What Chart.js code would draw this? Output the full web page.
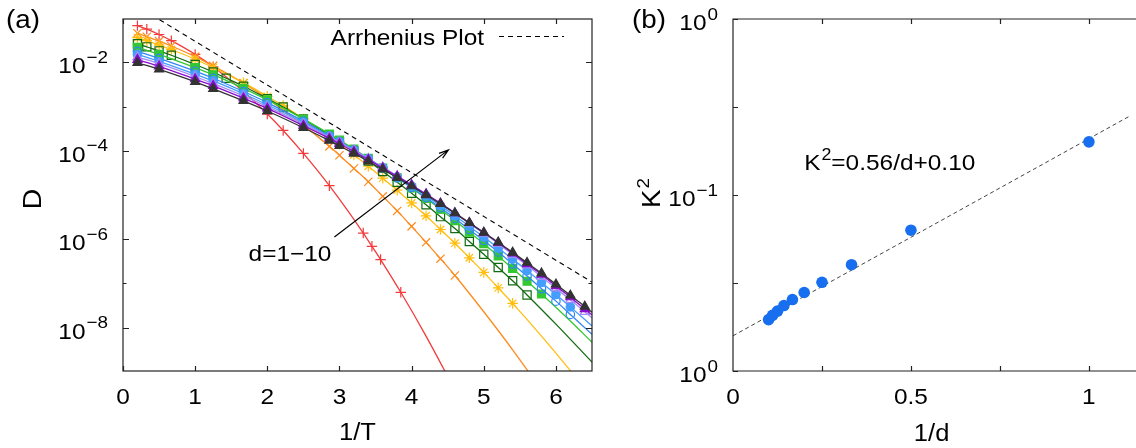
<!DOCTYPE html>
<html>
<head>
<meta charset="utf-8">
<script src="https://cdn.jsdelivr.net/npm/chart.js@4/dist/chart.umd.min.js"></script>
<style>
  html, body { margin: 0; padding: 0; background: #fff; overflow: hidden; }
  #wrap { position: relative; width: 1136px; height: 448px; }
  #chartA { position: absolute; left: 0; top: 0; }
  #chartB { position: absolute; left: 620px; top: 0; }
</style>
</head>
<body>
<div id="wrap">
  <canvas id="chartA" width="620" height="448"></canvas>
  <canvas id="chartB" width="516" height="448"></canvas>
</div>
<script>
// ---- panel (a): log10 D against 1/T, one pair of arrays per d ----
// the first nMeasured[i] points are simulation markers, the rest only carry the fitted curve
var t1 = [0.2, 0.33, 0.5, 0.67, 1, 1.25, 1.67, 2, 2.22, 2.5, 2.86, 3.33, 3.45, 3.57, 3.85, 4.2, 4.6];
var lg1 = [-1.17, -1.25, -1.37, -1.51, -1.82, -2.10, -2.66, -3.17, -3.54, -4.06, -4.79, -5.86, -6.16, -6.46, -7.20, -8.19, -9.41];
var t2 = [0.2, 0.33, 0.5, 0.67, 1, 1.25, 1.67, 2, 2.22, 2.5, 2.86, 3, 3.2, 3.4, 3.6, 3.8, 4, 4.2, 4.4, 4.6, 5, 5.4, 5.8];
var lg2 = [-1.34, -1.42, -1.52, -1.63, -1.87, -2.08, -2.47, -2.82, -3.08, -3.42, -3.90, -4.10, -4.40, -4.70, -5.03, -5.36, -5.71, -6.07, -6.44, -6.82, -7.64, -8.50, -9.41];
var t3 = [0.2, 0.33, 0.5, 0.67, 1, 1.25, 1.67, 2, 2.22, 2.5, 2.86, 3, 3.2, 3.4, 3.6, 3.8, 4, 4.2, 4.4, 4.6, 4.8, 5, 5.2, 5.4, 5.8, 6.2, 6.5];
var lg3 = [-1.44, -1.51, -1.61, -1.71, -1.93, -2.12, -2.46, -2.77, -2.98, -3.28, -3.68, -3.85, -4.09, -4.35, -4.62, -4.89, -5.18, -5.47, -5.78, -6.09, -6.42, -6.75, -7.10, -7.45, -8.19, -8.97, -9.58];
var t4 = [0.2, 0.33, 0.5, 0.67, 1, 1.25, 1.43, 1.67, 2, 2.22, 2.5, 2.86, 3, 3.2, 3.4, 3.6, 3.8, 4, 4.2, 4.4, 4.6, 4.8, 5, 5.2, 5.4, 5.6, 6, 6.5];
var lg4 = [-1.58, -1.65, -1.74, -1.84, -2.05, -2.22, -2.36, -2.54, -2.82, -3.01, -3.28, -3.64, -3.79, -4.01, -4.23, -4.47, -4.71, -4.96, -5.22, -5.49, -5.76, -6.05, -6.34, -6.64, -6.94, -7.26, -7.92, -8.78];
var t5 = [0.2, 0.5, 1, 1.25, 1.67, 2, 2.5, 2.86, 3, 3.2, 3.4, 3.6, 3.8, 4, 4.2, 4.4, 4.6, 4.8, 5, 5.2, 5.4, 5.6, 5.8, 6.2, 6.5];
var lg5 = [-1.66, -1.82, -2.12, -2.28, -2.59, -2.85, -3.28, -3.62, -3.76, -3.96, -4.17, -4.39, -4.61, -4.84, -5.08, -5.32, -5.58, -5.84, -6.10, -6.38, -6.66, -6.95, -7.24, -7.85, -8.33];
var t6 = [0.2, 0.5, 1, 1.25, 1.67, 2, 2.5, 2.86, 3, 3.2, 3.4, 3.6, 3.8, 4, 4.2, 4.4, 4.6, 4.8, 5, 5.2, 5.4, 5.6, 5.8, 6, 6.2, 6.5];
var lg6 = [-1.75, -1.91, -2.20, -2.36, -2.66, -2.91, -3.33, -3.66, -3.79, -3.98, -4.18, -4.39, -4.61, -4.83, -5.06, -5.29, -5.53, -5.78, -6.03, -6.29, -6.56, -6.83, -7.12, -7.40, -7.70, -8.15];
var t7 = [0.2, 0.5, 1, 1.25, 1.67, 2, 2.5, 2.86, 3, 3.2, 3.4, 3.6, 3.8, 4, 4.2, 4.4, 4.6, 4.8, 5, 5.2, 5.4, 5.6, 5.8, 6, 6.2, 6.5];
var lg7 = [-1.82, -1.98, -2.27, -2.42, -2.71, -2.96, -3.36, -3.68, -3.80, -3.99, -4.18, -4.38, -4.59, -4.80, -5.02, -5.24, -5.47, -5.71, -5.95, -6.20, -6.45, -6.71, -6.98, -7.25, -7.53, -7.96];
var t8 = [0.2, 0.5, 1, 1.25, 1.67, 2, 2.5, 2.86, 3, 3.2, 3.4, 3.6, 3.8, 4, 4.2, 4.4, 4.6, 4.8, 5, 5.2, 5.4, 5.6, 5.8, 6, 6.2, 6.4, 6.5];
var lg8 = [-1.88, -2.03, -2.32, -2.48, -2.76, -3.00, -3.39, -3.69, -3.81, -3.99, -4.18, -4.37, -4.57, -4.77, -4.98, -5.19, -5.41, -5.64, -5.87, -6.10, -6.35, -6.59, -6.85, -7.11, -7.37, -7.64, -7.78];
var t9 = [0.2, 0.5, 1, 1.25, 1.67, 2, 2.5, 2.86, 3, 3.2, 3.4, 3.6, 3.8, 4, 4.2, 4.4, 4.6, 4.8, 5, 5.2, 5.4, 5.6, 5.8, 6, 6.2, 6.4, 6.5];
var lg9 = [-1.94, -2.09, -2.38, -2.53, -2.81, -3.04, -3.43, -3.72, -3.84, -4.02, -4.20, -4.39, -4.58, -4.78, -4.98, -5.19, -5.41, -5.63, -5.85, -6.08, -6.32, -6.56, -6.80, -7.06, -7.31, -7.58, -7.71];
var t10 = [0.2, 0.5, 1, 1.25, 1.67, 2, 2.5, 2.86, 3, 3.2, 3.4, 3.6, 3.8, 4, 4.2, 4.4, 4.6, 4.8, 5, 5.2, 5.4, 5.6, 5.8, 6, 6.2, 6.4, 6.5];
var lg10 = [-2.01, -2.16, -2.44, -2.60, -2.87, -3.10, -3.48, -3.77, -3.89, -4.06, -4.24, -4.42, -4.61, -4.80, -5.00, -5.20, -5.41, -5.63, -5.85, -6.07, -6.30, -6.53, -6.77, -7.02, -7.27, -7.52, -7.65];
var nMeasured = [15, 20, 24, 26, 23, 25, 25, 26, 26, 26];

// Arrhenius reference line (two ends, log10 D)
var arrT = [0.4, 6.5];
var arrLg = [-0.93, -6.97];

// tick values
var xTicksA = [0, 1, 2, 3, 4, 5, 6];
var yDecadesA = [-8, -7, -6, -5, -4, -3, -2];
var yLabelsA = [-8, -6, -4, -2];

// annotation arrow "d=1-10" (1/T, log10 D)
var arrowFrom = [2.93, -5.95];
var arrowTo = [4.51, -3.98];
var arrowText = [1.74, -6.50];

// ---- panel (b): K^2 against 1/d ----
var invD = [1, 0.5, 0.333, 0.25, 0.2, 0.167, 0.143, 0.125, 0.111, 0.1];
var K2 = [0.651, 0.400, 0.302, 0.252, 0.223, 0.203, 0.186, 0.170, 0.158, 0.146];
var fitInvD = [0, 1.2];
var fitK2 = [0.10, 0.772];
var xTicksB = [0, 0.25, 0.5, 0.75, 1];
var xLabelsB = ['0', '', '0.5', '', '1'];
var yTicksB = [0, 0.25, 0.5, 0.75, 1];
var yExpB = [0, null, -1, null, 0];   // the odd labels printed on the original

var SX = 1.11;  // text in the original is a little wider than Liberation Sans
var FONT = '"Liberation Sans", Arial, Helvetica, sans-serif';

function label(ctx, s, x, y, size, align) {
  ctx.save();
  ctx.font = size + 'px ' + FONT;
  var w = ctx.measureText(s).width * SX;
  var x0 = align === 'center' ? x - w / 2 : (align === 'right' ? x - w : x);
  ctx.translate(x0, y);
  ctx.scale(SX, 1);
  ctx.fillStyle = '#000';
  ctx.textAlign = 'left';
  ctx.textBaseline = 'alphabetic';
  ctx.fillText(s, 0, 0);
  ctx.restore();
  return w;
}

function textWidth(ctx, s, size) {
  ctx.save();
  ctx.font = size + 'px ' + FONT;
  var w = ctx.measureText(s).width * SX;
  ctx.restore();
  return w;
}

// "10" with a raised exponent, right aligned, centred on py
function powLabel(ctx, exp, xRight, py) {
  var sup = exp < 0 ? '\u2212' + (-exp) : String(exp);
  var wb = textWidth(ctx, '10', 22);
  var ws = textWidth(ctx, sup, 17);
  var x0 = xRight - wb - ws - 1;
  label(ctx, '10', x0, py + 11, 22);
  label(ctx, sup, x0 + wb + 1, py + 0.5, 17);
}

var markers = [
  { style: 'cross',    color: '#f23c3c', fill: false, r: 5.2 },
  { style: 'crossRot', color: '#ff8a1c', fill: false, r: 5.8 },
  { style: 'star',     color: '#ffbe0f', fill: false, r: 5.3 },
  { style: 'rect',     color: '#126b12', fill: false, r: 5.8 },
  { style: 'rect',     color: '#33c833', fill: true,  r: 5.6 },
  { style: 'circle',   color: '#2f86f5', fill: false, r: 4.2 },
  { style: 'circle',   color: '#449dff', fill: true,  r: 4.2 },
  { style: 'triangle', color: '#a68cf7', fill: false, r: 5.2 },
  { style: 'triangle', color: '#8a0ccc', fill: true,  r: 5.2 },
  { style: 'triangle', color: '#333333', fill: true,  r: 5.2 }
];

var seriesT = [t1, t2, t3, t4, t5, t6, t7, t8, t9, t10];
var seriesLg = [lg1, lg2, lg3, lg4, lg5, lg6, lg7, lg8, lg9, lg10];

var datasetsA = [];
for (var i = 0; i < 10; i++) {
  (function (i) {
    var m = markers[i];
    datasetsA.push({
      label: 'd=' + (i + 1),
      data: seriesT[i].map(function (x, j) { return { x: x, y: Math.pow(10, seriesLg[i][j]) }; }),
      showLine: true,
      cubicInterpolationMode: 'monotone',
      borderColor: m.color,
      borderWidth: 1.3,
      pointStyle: m.style,
      pointBorderColor: m.color,
      pointBackgroundColor: m.fill ? m.color : 'rgba(0,0,0,0)',
      pointBorderWidth: 1.2,
      pointRadius: function (c) { return c.dataIndex < nMeasured[i] ? m.r : 0; },
      clip: 0,
      order: 10 - i   // d=10 ends up on top, as in the original
    });
  })(i);
}
datasetsA.push({
  label: 'Arrhenius Plot',
  data: arrT.map(function (x, j) { return { x: x, y: Math.pow(10, arrLg[j]) }; }),
  showLine: true,
  borderColor: '#000',
  borderWidth: 1.1,
  borderDash: [5, 4],
  pointRadius: 0,
  clip: 0,
  order: 0
});

var panelA = {
  id: 'panelA',
  afterDraw: function (chart) {
    var ctx = chart.ctx, a = chart.chartArea, x = chart.scales.x, y = chart.scales.y;
    ctx.save();
    ctx.strokeStyle = '#222';
    ctx.lineWidth = 1.2;
    ctx.strokeRect(a.left, a.top, a.right - a.left, a.bottom - a.top);
    ctx.beginPath();
    xTicksA.forEach(function (v) {
      var px = Math.round(x.getPixelForValue(v)) + 0.5;
      ctx.moveTo(px, a.bottom); ctx.lineTo(px, a.bottom - 5);
      ctx.moveTo(px, a.top); ctx.lineTo(px, a.top + 5);
    });
    yDecadesA.forEach(function (e) {
      var py = Math.round(y.getPixelForValue(Math.pow(10, e))) + 0.5;
      var len = e % 2 === 0 ? 6 : 3.5;
      ctx.moveTo(a.left, py); ctx.lineTo(a.left + len, py);
      ctx.moveTo(a.right, py); ctx.lineTo(a.right - len, py);
    });
    ctx.stroke();

    xTicksA.forEach(function (v) {
      label(ctx, String(v), x.getPixelForValue(v), a.bottom + 33, 22, 'center');
    });
    yLabelsA.forEach(function (e) {
      powLabel(ctx, e, a.left - 15, y.getPixelForValue(Math.pow(10, e)));
    });

    // axis titles and panel tag
    label(ctx, '1/T', (a.left + a.right) / 2, 440, 23, 'center');
    ctx.save();
    ctx.translate(41, (a.top + a.bottom) / 2 + 4);
    ctx.rotate(-Math.PI / 2);
    label(ctx, 'D', 0, 0, 26, 'center');
    ctx.restore();
    label(ctx, '(a)', 6, 28, 25);

    // key
    label(ctx, 'Arrhenius Plot', 484, 45, 22, 'right');
    ctx.beginPath();
    ctx.setLineDash([5, 4]);
    ctx.lineWidth = 1.1;
    ctx.strokeStyle = '#000';
    ctx.moveTo(499, 36.5); ctx.lineTo(564, 36.5);
    ctx.stroke();
    ctx.setLineDash([]);

    // arrow across the family of curves
    var x0 = x.getPixelForValue(arrowFrom[0]), y0 = y.getPixelForValue(Math.pow(10, arrowFrom[1]));
    var x1 = x.getPixelForValue(arrowTo[0]), y1 = y.getPixelForValue(Math.pow(10, arrowTo[1]));
    var ang = Math.atan2(y1 - y0, x1 - x0), hl = 10, hw = 0.3;
    ctx.beginPath();
    ctx.lineWidth = 1.2;
    ctx.strokeStyle = '#000';
    ctx.moveTo(x0, y0); ctx.lineTo(x1, y1);
    ctx.moveTo(x1 - hl * Math.cos(ang - hw), y1 - hl * Math.sin(ang - hw));
    ctx.lineTo(x1, y1);
    ctx.lineTo(x1 - hl * Math.cos(ang + hw), y1 - hl * Math.sin(ang + hw));
    ctx.stroke();
    label(ctx, 'd=1\u221210', x.getPixelForValue(arrowText[0]), y.getPixelForValue(Math.pow(10, arrowText[1])), 22);
    ctx.restore();
  }
};

new Chart(document.getElementById('chartA'), {
  type: 'scatter',
  data: { datasets: datasetsA },
  options: {
    responsive: false,
    animation: false,
    layout: { padding: { left: 123, right: 28, top: 19, bottom: 77 } },
    plugins: { legend: { display: false }, tooltip: { enabled: false } },
    scales: {
      x: { type: 'linear', min: 0, max: 6.5, display: false },
      y: { type: 'logarithmic', min: Math.pow(10, -8.98), max: Math.pow(10, -1.02), display: false }
    }
  },
  plugins: [panelA]
});

var panelB = {
  id: 'panelB',
  afterDraw: function (chart) {
    var ctx = chart.ctx, a = chart.chartArea, x = chart.scales.x, y = chart.scales.y;
    ctx.save();
    ctx.strokeStyle = '#222';
    ctx.lineWidth = 1.2;
    ctx.beginPath();
    ctx.moveTo(chart.width + 2, a.top); ctx.lineTo(a.left, a.top);
    ctx.lineTo(a.left, a.bottom); ctx.lineTo(chart.width + 2, a.bottom);
    xTicksB.forEach(function (v) {
      var px = Math.round(x.getPixelForValue(v)) + 0.5;
      if (v === 0) return;
      ctx.moveTo(px, a.bottom); ctx.lineTo(px, a.bottom - 5);
      ctx.moveTo(px, a.top); ctx.lineTo(px, a.top + 5);
    });
    yTicksB.forEach(function (v) {
      var py = Math.round(y.getPixelForValue(v)) + 0.5;
      ctx.moveTo(a.left, py); ctx.lineTo(a.left + 5, py);
    });
    ctx.stroke();

    xTicksB.forEach(function (v, k) {
      if (xLabelsB[k]) label(ctx, xLabelsB[k], x.getPixelForValue(v), a.bottom + 33, 22, 'center');
    });
    yTicksB.forEach(function (v, k) {
      if (yExpB[k] !== null) powLabel(ctx, yExpB[k], a.left - 15, y.getPixelForValue(v));
    });

    label(ctx, '1/d', (a.left + a.right) / 2, 441, 23, 'center');
    ctx.save();
    ctx.translate(40, (a.top + a.bottom) / 2 + 13);
    ctx.rotate(-Math.PI / 2);
    var wk = label(ctx, 'K', 0, 0, 25);
    label(ctx, '2', wk + 1, -11, 17);
    ctx.restore();
    label(ctx, '(b)', 12, 28, 25);

    // fit formula
    var fx = x.getPixelForValue(0.2), fy = y.getPixelForValue(0.571);
    var w1 = label(ctx, 'K', fx, fy, 22);
    var w2 = label(ctx, '2', fx + w1 + 1, fy - 10, 16);
    label(ctx, '=0.56/d+0.10', fx + w1 + w2 + 1, fy, 22);
    ctx.restore();
  }
};

new Chart(document.getElementById('chartB'), {
  type: 'scatter',
  data: {
    datasets: [
      {
        label: 'K2',
        data: invD.map(function (v, j) { return { x: v, y: K2[j] }; }),
        pointStyle: 'circle',
        pointRadius: 5.8,
        pointBorderWidth: 0,
        pointBackgroundColor: '#176ff0',
        clip: 0,
        order: 0
      },
      {
        label: 'fit',
        data: fitInvD.map(function (v, j) { return { x: v, y: fitK2[j] }; }),
        showLine: true,
        borderColor: '#444',
        borderWidth: 1,
        borderDash: [4, 3],
        pointRadius: 0,
        clip: 0,
        order: 1
      }
    ]
  },
  options: {
    responsive: false,
    animation: false,
    layout: { padding: { left: 113, right: 0, top: 19, bottom: 77 } },
    plugins: { legend: { display: false }, tooltip: { enabled: false } },
    scales: {
      x: { type: 'linear', min: 0, max: 1.116, display: false },
      y: { type: 'linear', min: 0, max: 1, display: false }
    }
  },
  plugins: [panelB]
});
</script>
</body>
</html>
